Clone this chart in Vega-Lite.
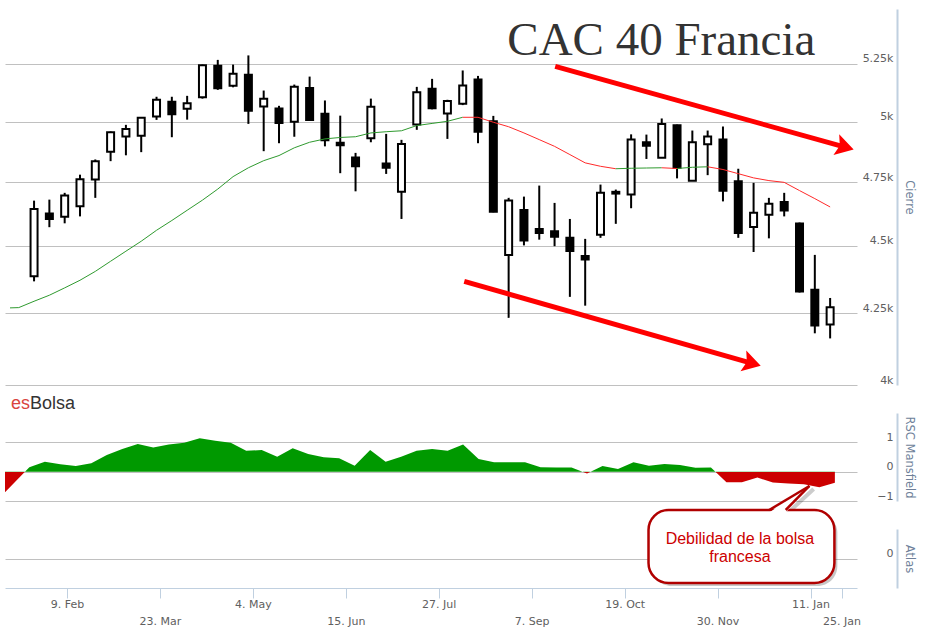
{
  "$schema": "https://vega.github.io/schema/vega-lite/v6.json",
  "padding": {"left": 5, "top": 9, "right": 5, "bottom": 5},
  "background": "white",
  "config": {
    "view": {"stroke": null},
    "axis": {"labelFont": "DejaVu Sans", "titleFont": "DejaVu Sans"}
  },
  "datasets": {
    "candles": [
      {"date": "2015-01-23", "open": 4386, "high": 4676, "low": 4367, "close": 4643},
      {"date": "2015-01-30", "open": 4625, "high": 4680, "low": 4572, "close": 4604},
      {"date": "2015-02-06", "open": 4613, "high": 4707, "low": 4587, "close": 4696},
      {"date": "2015-02-13", "open": 4654, "high": 4780, "low": 4614, "close": 4761},
      {"date": "2015-02-20", "open": 4760, "high": 4842, "low": 4687, "close": 4835},
      {"date": "2015-02-27", "open": 4874, "high": 4958, "low": 4835, "close": 4955},
      {"date": "2015-03-06", "open": 4937, "high": 4986, "low": 4859, "close": 4969},
      {"date": "2015-03-13", "open": 4940, "high": 5018, "low": 4872, "close": 5016},
      {"date": "2015-03-20", "open": 5021, "high": 5106, "low": 5007, "close": 5093},
      {"date": "2015-03-27", "open": 5084, "high": 5106, "low": 4934, "close": 5031},
      {"date": "2015-04-03", "open": 5054, "high": 5110, "low": 5008, "close": 5078},
      {"date": "2015-04-10", "open": 5104, "high": 5247, "low": 5098, "close": 5244},
      {"date": "2015-04-17", "open": 5242, "high": 5268, "low": 5136, "close": 5143},
      {"date": "2015-04-24", "open": 5154, "high": 5247, "low": 5147, "close": 5206},
      {"date": "2015-05-01", "open": 5202, "high": 5288, "low": 4990, "close": 5046},
      {"date": "2015-05-08", "open": 5064, "high": 5133, "low": 4876, "close": 5097},
      {"date": "2015-05-15", "open": 5055, "high": 5067, "low": 4909, "close": 4994},
      {"date": "2015-05-22", "open": 4999, "high": 5159, "low": 4936, "close": 5149},
      {"date": "2015-05-29", "open": 5144, "high": 5194, "low": 5004, "close": 5006},
      {"date": "2015-06-05", "open": 5033, "high": 5090, "low": 4896, "close": 4921},
      {"date": "2015-06-12", "open": 4911, "high": 5025, "low": 4786, "close": 4901},
      {"date": "2015-06-19", "open": 4850, "high": 4869, "low": 4713, "close": 4814},
      {"date": "2015-06-26", "open": 4930, "high": 5098, "low": 4913, "close": 5063},
      {"date": "2015-07-03", "open": 4825, "high": 4948, "low": 4783, "close": 4808},
      {"date": "2015-07-10", "open": 4711, "high": 4923, "low": 4604, "close": 4906},
      {"date": "2015-07-17", "open": 4987, "high": 5149, "low": 4965, "close": 5126},
      {"date": "2015-07-24", "open": 5141, "high": 5184, "low": 5052, "close": 5057},
      {"date": "2015-07-31", "open": 5034, "high": 5093, "low": 4927, "close": 5088},
      {"date": "2015-08-07", "open": 5076, "high": 5221, "low": 5070, "close": 5155},
      {"date": "2015-08-14", "open": 5181, "high": 5197, "low": 4909, "close": 4957},
      {"date": "2015-08-21", "open": 5001, "high": 5024, "low": 4630, "close": 4632},
      {"date": "2015-08-28", "open": 4466, "high": 4687, "low": 4234, "close": 4677},
      {"date": "2015-09-04", "open": 4639, "high": 4692, "low": 4502, "close": 4521},
      {"date": "2015-09-11", "open": 4565, "high": 4736, "low": 4524, "close": 4550},
      {"date": "2015-09-18", "open": 4556, "high": 4667, "low": 4499, "close": 4535},
      {"date": "2015-09-25", "open": 4531, "high": 4604, "low": 4310, "close": 4481},
      {"date": "2015-10-02", "open": 4462, "high": 4527, "low": 4278, "close": 4449},
      {"date": "2015-10-09", "open": 4543, "high": 4740, "low": 4531, "close": 4707},
      {"date": "2015-10-16", "open": 4711, "high": 4720, "low": 4585, "close": 4704},
      {"date": "2015-10-23", "open": 4700, "high": 4946, "low": 4646, "close": 4924},
      {"date": "2015-10-30", "open": 4913, "high": 4945, "low": 4844, "close": 4899},
      {"date": "2015-11-06", "open": 4849, "high": 5013, "low": 4849, "close": 4990},
      {"date": "2015-11-13", "open": 4984, "high": 4987, "low": 4765, "close": 4808},
      {"date": "2015-11-20", "open": 4755, "high": 4962, "low": 4755, "close": 4913},
      {"date": "2015-11-27", "open": 4905, "high": 4962, "low": 4778, "close": 4937},
      {"date": "2015-12-04", "open": 4924, "high": 4979, "low": 4673, "close": 4715},
      {"date": "2015-12-11", "open": 4753, "high": 4804, "low": 4531, "close": 4550},
      {"date": "2015-12-18", "open": 4573, "high": 4747, "low": 4477, "close": 4628},
      {"date": "2015-12-25", "open": 4620, "high": 4687, "low": 4529, "close": 4664},
      {"date": "2016-01-01", "open": 4671, "high": 4707, "low": 4614, "close": 4637},
      {"date": "2016-01-08", "open": 4586, "high": 4590, "low": 4326, "close": 4330},
      {"date": "2016-01-15", "open": 4336, "high": 4466, "low": 4179, "close": 4207},
      {"date": "2016-01-22", "open": 4210, "high": 4306, "low": 4161, "close": 4272}
    ],
    "ma": [
      {"date": "2015-01-12", "ma": 4270, "seg": 1, "trend": "up"},
      {"date": "2015-01-16", "ma": 4271, "seg": 1, "trend": "up"},
      {"date": "2015-01-23", "ma": 4294, "seg": 1, "trend": "up"},
      {"date": "2015-01-30", "ma": 4316, "seg": 1, "trend": "up"},
      {"date": "2015-02-06", "ma": 4343, "seg": 1, "trend": "up"},
      {"date": "2015-02-13", "ma": 4371, "seg": 1, "trend": "up"},
      {"date": "2015-02-20", "ma": 4404, "seg": 1, "trend": "up"},
      {"date": "2015-02-27", "ma": 4442, "seg": 1, "trend": "up"},
      {"date": "2015-03-06", "ma": 4480, "seg": 1, "trend": "up"},
      {"date": "2015-03-13", "ma": 4518, "seg": 1, "trend": "up"},
      {"date": "2015-03-20", "ma": 4560, "seg": 1, "trend": "up"},
      {"date": "2015-03-27", "ma": 4598, "seg": 1, "trend": "up"},
      {"date": "2015-04-03", "ma": 4638, "seg": 1, "trend": "up"},
      {"date": "2015-04-10", "ma": 4678, "seg": 1, "trend": "up"},
      {"date": "2015-04-17", "ma": 4722, "seg": 1, "trend": "up"},
      {"date": "2015-04-24", "ma": 4772, "seg": 1, "trend": "up"},
      {"date": "2015-05-01", "ma": 4808, "seg": 1, "trend": "up"},
      {"date": "2015-05-08", "ma": 4837, "seg": 1, "trend": "up"},
      {"date": "2015-05-15", "ma": 4858, "seg": 1, "trend": "up"},
      {"date": "2015-05-22", "ma": 4890, "seg": 1, "trend": "up"},
      {"date": "2015-05-29", "ma": 4913, "seg": 1, "trend": "up"},
      {"date": "2015-06-05", "ma": 4927, "seg": 1, "trend": "up"},
      {"date": "2015-06-12", "ma": 4933, "seg": 1, "trend": "up"},
      {"date": "2015-06-19", "ma": 4936, "seg": 1, "trend": "up"},
      {"date": "2015-06-26", "ma": 4952, "seg": 1, "trend": "up"},
      {"date": "2015-07-03", "ma": 4957, "seg": 1, "trend": "up"},
      {"date": "2015-07-10", "ma": 4961, "seg": 1, "trend": "up"},
      {"date": "2015-07-17", "ma": 4983, "seg": 1, "trend": "up"},
      {"date": "2015-07-24", "ma": 4992, "seg": 1, "trend": "up"},
      {"date": "2015-07-31", "ma": 5001, "seg": 1, "trend": "up"},
      {"date": "2015-08-07", "ma": 5018, "seg": 1, "trend": "up"},
      {"date": "2015-08-07", "ma": 5018, "seg": 2, "trend": "down"},
      {"date": "2015-08-14", "ma": 5018, "seg": 2, "trend": "down"},
      {"date": "2015-08-21", "ma": 4997, "seg": 2, "trend": "down"},
      {"date": "2015-08-28", "ma": 4978, "seg": 2, "trend": "down"},
      {"date": "2015-09-04", "ma": 4952, "seg": 2, "trend": "down"},
      {"date": "2015-09-11", "ma": 4924, "seg": 2, "trend": "down"},
      {"date": "2015-09-18", "ma": 4896, "seg": 2, "trend": "down"},
      {"date": "2015-09-25", "ma": 4862, "seg": 2, "trend": "down"},
      {"date": "2015-10-02", "ma": 4828, "seg": 2, "trend": "down"},
      {"date": "2015-10-09", "ma": 4814, "seg": 2, "trend": "down"},
      {"date": "2015-10-16", "ma": 4804, "seg": 2, "trend": "down"},
      {"date": "2015-10-16", "ma": 4804, "seg": 3, "trend": "up"},
      {"date": "2015-10-23", "ma": 4806, "seg": 3, "trend": "up"},
      {"date": "2015-10-30", "ma": 4807, "seg": 3, "trend": "up"},
      {"date": "2015-11-06", "ma": 4808, "seg": 3, "trend": "up"},
      {"date": "2015-11-06", "ma": 4808, "seg": 4, "trend": "down"},
      {"date": "2015-11-13", "ma": 4805, "seg": 4, "trend": "down"},
      {"date": "2015-11-13", "ma": 4805, "seg": 5, "trend": "up"},
      {"date": "2015-11-20", "ma": 4810, "seg": 5, "trend": "up"},
      {"date": "2015-11-27", "ma": 4812, "seg": 5, "trend": "up"},
      {"date": "2015-11-27", "ma": 4812, "seg": 6, "trend": "down"},
      {"date": "2015-12-04", "ma": 4801, "seg": 6, "trend": "down"},
      {"date": "2015-12-11", "ma": 4784, "seg": 6, "trend": "down"},
      {"date": "2015-12-18", "ma": 4767, "seg": 6, "trend": "down"},
      {"date": "2015-12-25", "ma": 4756, "seg": 6, "trend": "down"},
      {"date": "2016-01-01", "ma": 4749, "seg": 6, "trend": "down"},
      {"date": "2016-01-08", "ma": 4716, "seg": 6, "trend": "down"},
      {"date": "2016-01-15", "ma": 4684, "seg": 6, "trend": "down"},
      {"date": "2016-01-22", "ma": 4651, "seg": 6, "trend": "down"}
    ],
    "rsc": [
      {"date": "2015-01-12", "rsc": -0.70},
      {"date": "2015-01-23", "rsc": 0.15},
      {"date": "2015-01-30", "rsc": 0.34},
      {"date": "2015-02-06", "rsc": 0.25},
      {"date": "2015-02-13", "rsc": 0.19},
      {"date": "2015-02-20", "rsc": 0.29},
      {"date": "2015-02-27", "rsc": 0.57},
      {"date": "2015-03-06", "rsc": 0.77},
      {"date": "2015-03-13", "rsc": 0.94},
      {"date": "2015-03-20", "rsc": 0.82},
      {"date": "2015-03-27", "rsc": 0.93},
      {"date": "2015-04-03", "rsc": 0.99},
      {"date": "2015-04-10", "rsc": 1.14},
      {"date": "2015-04-17", "rsc": 1.05},
      {"date": "2015-04-24", "rsc": 0.99},
      {"date": "2015-05-01", "rsc": 0.71},
      {"date": "2015-05-08", "rsc": 0.74},
      {"date": "2015-05-15", "rsc": 0.51},
      {"date": "2015-05-22", "rsc": 0.80},
      {"date": "2015-05-29", "rsc": 0.60},
      {"date": "2015-06-05", "rsc": 0.49},
      {"date": "2015-06-12", "rsc": 0.46},
      {"date": "2015-06-19", "rsc": 0.20},
      {"date": "2015-06-26", "rsc": 0.74},
      {"date": "2015-07-03", "rsc": 0.34},
      {"date": "2015-07-10", "rsc": 0.51},
      {"date": "2015-07-17", "rsc": 0.71},
      {"date": "2015-07-24", "rsc": 0.77},
      {"date": "2015-07-31", "rsc": 0.71},
      {"date": "2015-08-07", "rsc": 0.93},
      {"date": "2015-08-14", "rsc": 0.43},
      {"date": "2015-08-21", "rsc": 0.32},
      {"date": "2015-08-28", "rsc": 0.32},
      {"date": "2015-09-04", "rsc": 0.32},
      {"date": "2015-09-11", "rsc": 0.15},
      {"date": "2015-09-18", "rsc": 0.14},
      {"date": "2015-09-25", "rsc": 0.14},
      {"date": "2015-10-02", "rsc": -0.06},
      {"date": "2015-10-09", "rsc": 0.19},
      {"date": "2015-10-16", "rsc": 0.09},
      {"date": "2015-10-23", "rsc": 0.32},
      {"date": "2015-10-30", "rsc": 0.20},
      {"date": "2015-11-06", "rsc": 0.26},
      {"date": "2015-11-13", "rsc": 0.23},
      {"date": "2015-11-20", "rsc": 0.13},
      {"date": "2015-11-27", "rsc": 0.14},
      {"date": "2015-12-04", "rsc": -0.36},
      {"date": "2015-12-11", "rsc": -0.36},
      {"date": "2015-12-18", "rsc": -0.20},
      {"date": "2015-12-25", "rsc": -0.37},
      {"date": "2016-01-01", "rsc": -0.40},
      {"date": "2016-01-08", "rsc": -0.43},
      {"date": "2016-01-15", "rsc": -0.53},
      {"date": "2016-01-22", "rsc": -0.38}
    ],
    "arrows": [
      {"x1": "2015-09-18T07:00:00Z", "v1": 5239, "x2": "2016-01-28T19:00:00Z", "v2": 4893},
      {"x1": "2015-08-07T17:00:00Z", "v1": 4367, "x2": "2015-12-17T07:00:00Z", "v2": 4074}
    ],
    "title": [
      {"date": "2015-11-05T20:00:00Z", "v": 5292, "label": "CAC 40 Francia"}
    ],
    "brand": [
      {"date": "2015-01-14T17:00:00Z", "v": 2.136, "es": "es", "rest": "Bolsa"}
    ],
    "bubble": [
      {"x1": "2015-10-29T19:00:00Z", "x2": "2016-01-21T19:00:00Z", "y1": 1.644, "y2": -0.83}
    ],
    "shadow": [
      {"x1": "2015-10-31T03:00:00Z", "x2": "2016-01-23T03:00:00Z", "y1": 1.54, "y2": -0.93}
    ],
    "tailShadow": [
      {"x1": "2016-01-01T05:00:00Z", "y1": 1.576, "x2": "2016-01-12T10:00:00Z", "y2": 2.356}
    ],
    "tail": [
      {"d": "2015-12-23T07:00:00Z", "top": 1.559, "bot": 1.559},
      {"d": "2015-12-30T19:00:00Z", "top": 1.929, "bot": 1.559},
      {"d": "2016-01-10T12:00:00Z", "top": 2.458, "bot": 2.458}
    ],
    "tailEdges": [
      {"x1": "2015-12-23T07:00:00Z", "y1": 1.644, "x2": "2016-01-10T12:00:00Z", "y2": 2.458},
      {"x1": "2015-12-30T19:00:00Z", "y1": 1.644, "x2": "2016-01-10T12:00:00Z", "y2": 2.458}
    ],
    "note": [
      {"d": "2015-12-10T02:00:00Z", "v": 0.49, "t": "Debilidad de la bolsa\nfrancesa"}
    ]
  },
  "spacing": 28,
  "bounds": "flush",
  "vconcat": [
    {
      "width": 852,
      "height": 376,
      "layer": [
        {
          "data": {"name": "candles"},
          "mark": {"type": "rule", "color": "black", "strokeWidth": 2},
          "encoding": {
            "x": {"field": "date", "type": "temporal",
              "scale": {"type": "utc", "nice": false, "domain": [{"year": 2015, "month": 1, "date": 12, "utc": true}, {"year": 2016, "month": 2, "date": 1, "utc": true}]},
              "axis": null},
            "y": {"field": "low", "type": "quantitative",
              "scale": {"type": "log", "nice": false, "domain": [4000, 5500]},
              "axis": {"orient": "right", "offset": 40, "values": [4000, 4250, 4500, 4750, 5000, 5250],
                "grid": true, "gridColor": "#C0C0C0", "gridWidth": 1,
                "domain": true, "domainColor": "#C0D0E0", "domainWidth": 2,
                "ticks": false, "tickSize": 0,
                "labelAlign": "right", "labelPadding": -4, "labelBaseline": "alphabetic", "labelOffset": -2,
                "labelFlush": false, "labelOverlap": false, "labelBound": false,
                "labelFontSize": 11, "labelColor": "#606060",
                "labelExpr": "(datum.value / 1000) + 'k'",
                "title": "Cierre", "titleColor": "#6e7f99", "titleFontSize": 11.5, "titleFontWeight": "normal", "titlePadding": 6}},
            "y2": {"field": "high"}
          }
        },
        {
          "mark": {"type": "rule", "color": "#C0C0C0", "strokeWidth": 1},
          "encoding": {
            "y": {"datum": 5500, "type": "quantitative"}
          }
        },
        {
          "data": {"name": "candles"},
          "mark": {"type": "bar", "width": 7, "stroke": "black", "strokeWidth": 2},
          "encoding": {
            "x": {"field": "date", "type": "temporal", "axis": null},
            "y": {"field": "open", "type": "quantitative"},
            "y2": {"field": "close"},
            "fill": {"condition": {"test": "datum.close > datum.open", "value": "white"}, "value": "black"}
          }
        },
        {
          "data": {"name": "ma"},
          "mark": {"type": "line", "strokeWidth": 1},
          "encoding": {
            "x": {"field": "date", "type": "temporal", "axis": null},
            "y": {"field": "ma", "type": "quantitative"},
            "color": {"field": "trend", "type": "nominal", "scale": {"domain": ["up", "down"], "range": ["#2f9a2f", "#ff2a2a"]}, "legend": null},
            "detail": {"field": "seg", "type": "nominal"}
          }
        },
        {
          "data": {"name": "arrows"},
          "mark": {"type": "rule", "color": "#ff0000", "strokeWidth": 5},
          "encoding": {
            "x": {"field": "x1", "type": "temporal", "axis": null},
            "y": {"field": "v1", "type": "quantitative"},
            "x2": {"field": "x2"},
            "y2": {"field": "v2"}
          }
        },
        {
          "data": {"name": "arrows"},
          "mark": {"type": "point", "shape": "M1,0 L-1,-1.2 L-0.6,0 L-1,1.2 Z", "filled": true, "color": "#ff0000", "opacity": 1, "size": 324, "angle": 15.5, "strokeWidth": 0},
          "encoding": {
            "x": {"field": "x2", "type": "temporal", "axis": null},
            "y": {"field": "v2", "type": "quantitative"}
          }
        },
        {
          "data": {"name": "title"},
          "mark": {"type": "text", "font": "Liberation Serif", "fontSize": 47, "color": "#333333", "align": "center", "baseline": "alphabetic"},
          "encoding": {
            "x": {"field": "date", "type": "temporal", "axis": null},
            "y": {"field": "v", "type": "quantitative"},
            "text": {"field": "label"}
          }
        }
      ]
    },
    {
      "width": 852,
      "height": 88,
      "layer": [
        {
          "data": {"name": "rsc"},
          "mark": {"type": "area",
            "color": {"gradient": "linear", "x1": 0, "y1": 0, "x2": 0, "y2": 1,
              "stops": [
                {"offset": 0, "color": "#009900"},
                {"offset": 0.6196, "color": "#009900"},
                {"offset": 0.6196, "color": "#cc0000"},
                {"offset": 1, "color": "#cc0000"}
              ]}},
          "encoding": {
            "x": {"field": "date", "type": "temporal",
              "scale": {"type": "utc", "nice": false, "domain": [{"year": 2015, "month": 1, "date": 12, "utc": true}, {"year": 2016, "month": 2, "date": 1, "utc": true}]},
              "axis": null},
            "y": {"field": "rsc", "type": "quantitative",
              "scale": {"domain": [-1, 2], "nice": false, "zero": false},
              "axis": {"orient": "right", "offset": 40, "values": [-1, 0, 1],
                "grid": true, "gridColor": "#C0C0C0", "gridWidth": 1,
                "domain": true, "domainColor": "#C0D0E0", "domainWidth": 2,
                "ticks": false, "tickSize": 0,
                "labelAlign": "right", "labelPadding": -4, "labelBaseline": "alphabetic", "labelOffset": -2,
                "labelFlush": false, "labelOverlap": false, "labelBound": false,
                "labelFontSize": 11, "labelColor": "#606060",
                "labelExpr": "format(datum.value, 'd')",
                "title": "RSC Mansfield", "titleColor": "#6e7f99", "titleFontSize": 11.5, "titleFontWeight": "normal", "titlePadding": 6}},
            "y2": {"datum": 0}
          }
        },
        {
          "mark": {"type": "rule", "color": "#C0C0C0", "strokeWidth": 1},
          "encoding": {
            "y": {"datum": 2, "type": "quantitative"}
          }
        },
        {
          "data": {"name": "brand"},
          "mark": {"type": "text", "font": "Liberation Sans", "fontSize": 18, "color": "#d9443f", "align": "left", "baseline": "alphabetic"},
          "encoding": {
            "x": {"field": "date", "type": "temporal", "axis": null},
            "y": {"field": "v", "type": "quantitative"},
            "text": {"field": "es"}
          }
        },
        {
          "data": {"name": "brand"},
          "mark": {"type": "text", "font": "Liberation Sans", "fontSize": 18, "color": "#333333", "align": "left", "baseline": "alphabetic", "dx": 19},
          "encoding": {
            "x": {"field": "date", "type": "temporal", "axis": null},
            "y": {"field": "v", "type": "quantitative"},
            "text": {"field": "rest"}
          }
        }
      ]
    },
    {
      "width": 852,
      "height": 59,
      "layer": [
        {
          "data": {"name": "shadow"},
          "mark": {"type": "rect", "color": "#000000", "opacity": 0.22, "cornerRadius": 20},
          "encoding": {
            "x": {"field": "x1", "type": "temporal",
              "scale": {"type": "utc", "nice": false, "domain": [{"year": 2015, "month": 1, "date": 12, "utc": true}, {"year": 2016, "month": 2, "date": 1, "utc": true}]},
              "axis": {"orient": "bottom", "grid": false,
                "values": [
                  {"year": 2015, "month": 2, "date": 9, "utc": true},
                  {"year": 2015, "month": 3, "date": 23, "utc": true},
                  {"year": 2015, "month": 5, "date": 4, "utc": true},
                  {"year": 2015, "month": 6, "date": 15, "utc": true},
                  {"year": 2015, "month": 7, "date": 27, "utc": true},
                  {"year": 2015, "month": 9, "date": 7, "utc": true},
                  {"year": 2015, "month": 10, "date": 19, "utc": true},
                  {"year": 2015, "month": 11, "date": 30, "utc": true},
                  {"year": 2016, "month": 1, "date": 11, "utc": true},
                  {"year": 2016, "month": 1, "date": 25, "utc": true}
                ],
                "domain": true, "domainColor": "#C0D0E0", "domainWidth": 1,
                "ticks": true, "tickColor": "#C0D0E0", "tickSize": 10, "tickWidth": 1,
                "labelPadding": 0, "labelBaseline": "top", "labelAlign": "center",
                "labelFlush": false, "labelOverlap": false, "labelBound": false,
                "labelFontSize": 11, "labelColor": "#606060", "labelLineHeight": 17,
                "labelExpr": "(indexof([2, 5, 8, 10], utcmonth(datum.value)) >= 0 || utcdate(datum.value) == 25) ? ['', utcFormat(datum.value, '%-d. %b')] : utcFormat(datum.value, '%-d. %b')",
                "title": null}},
            "x2": {"field": "x2"},
            "y": {"field": "y1", "type": "quantitative",
              "scale": {"domain": [-1, 1], "nice": false, "zero": false},
              "axis": {"orient": "right", "offset": 40, "values": [0],
                "grid": true, "gridColor": "#C0C0C0", "gridWidth": 1,
                "domain": true, "domainColor": "#C0D0E0", "domainWidth": 2,
                "ticks": false, "tickSize": 0,
                "labelAlign": "right", "labelPadding": -4, "labelBaseline": "alphabetic", "labelOffset": -2,
                "labelFlush": false, "labelOverlap": false, "labelBound": false,
                "labelFontSize": 11, "labelColor": "#606060",
                "title": "Atlas", "titleColor": "#6e7f99", "titleFontSize": 11.5, "titleFontWeight": "normal", "titlePadding": 6}},
            "y2": {"field": "y2"}
          }
        },
        {
          "data": {"name": "tailShadow"},
          "mark": {"type": "rule", "color": "#000000", "opacity": 0.2, "strokeWidth": 4},
          "encoding": {
            "x": {"field": "x1", "type": "temporal"},
            "x2": {"field": "x2"},
            "y": {"field": "y1", "type": "quantitative"},
            "y2": {"field": "y2"}
          }
        },
        {
          "data": {"name": "bubble"},
          "mark": {"type": "rect", "fill": "white", "stroke": "#b00000", "strokeWidth": 2.5, "cornerRadius": 20},
          "encoding": {
            "x": {"field": "x1", "type": "temporal"},
            "x2": {"field": "x2"},
            "y": {"field": "y1", "type": "quantitative"},
            "y2": {"field": "y2"}
          }
        },
        {
          "data": {"name": "tail"},
          "mark": {"type": "area", "color": "white", "opacity": 1},
          "encoding": {
            "x": {"field": "d", "type": "temporal"},
            "y": {"field": "top", "type": "quantitative"},
            "y2": {"field": "bot"}
          }
        },
        {
          "data": {"name": "tailEdges"},
          "mark": {"type": "rule", "color": "#b00000", "strokeWidth": 2.5},
          "encoding": {
            "x": {"field": "x1", "type": "temporal"},
            "x2": {"field": "x2"},
            "y": {"field": "y1", "type": "quantitative"},
            "y2": {"field": "y2"}
          }
        },
        {
          "data": {"name": "note"},
          "mark": {"type": "text", "font": "Liberation Sans", "fontSize": 16, "color": "#cc0000", "align": "center", "baseline": "alphabetic", "lineBreak": "\n", "lineHeight": 17.5},
          "encoding": {
            "x": {"field": "d", "type": "temporal"},
            "y": {"field": "v", "type": "quantitative"},
            "text": {"field": "t"}
          }
        }
      ]
    }
  ]
}
